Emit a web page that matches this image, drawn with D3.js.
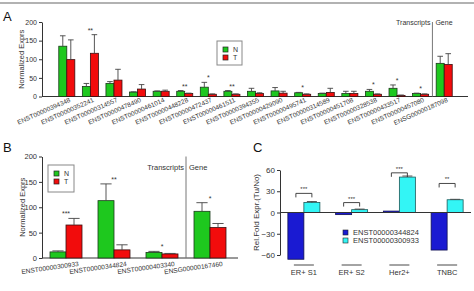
<!DOCTYPE html>
<html>
<head>
<meta charset="utf-8">
<script src="https://cdn.jsdelivr.net/npm/d3@7"></script>
<style>
body { margin: 0; background: #fff; }
svg { display: block; font-family: "Liberation Sans", Arial, sans-serif; }
</style>
</head>
<body>
<div id="fig"></div>
<script>
// ---- panel A: transcripts + gene, normal vs tumour
var aCats = ["ENST00000394348", "ENST00000352241", "ENST00000314557", "ENST00000478490",
    "ENST00000461014", "ENST00000448228", "ENST00000472437", "ENST00000461511",
    "ENST00000394355", "ENST00000429090", "ENST00000495741", "ENST00000314589",
    "ENST00000451708", "ENST00000328538", "ENST00000433517", "ENST00000457080",
    "ENSG00000187098"];
var aN    = [135, 27, 35, 12, 14, 14, 25, 14, 14, 15, 10, 8, 8, 14, 22, 8, 89];
var aNerr = [28, 8, 5, 0.5, 1, 2, 13, 2, 8, 9, 1, 1, 6, 5, 9, 1, 19];
var aT    = [99, 116, 44, 20, 14, 8, 6, 6, 8, 9, 6, 11, 8, 6, 3, 6, 86];
var aTerr = [53, 50, 29, 12, 3, 1, 1, 1, 2, 5, 1, 11, 6, 1, 1, 1, 29];
var aSig  = ["", "**", "", "", "", "**", "*", "**", "", "", "*", "", "", "*", "*", "*", ""];

// ---- panel B
var bCats = ["ENST00000300933", "ENST00000344824", "ENST00000403340", "ENSG00000167460"];
var bN    = [12, 113, 11, 92];
var bNerr = [2, 33, 2, 17];
var bT    = [65, 16, 8, 60];
var bTerr = [13, 10, 1, 8];
var bSig  = ["***", "**", "*", "*"];

var ntTicks = [0, 50, 100, 150, 200];

// ---- panel C: fold change by subtype
var cCats   = ["ER+ S1", "ER+ S2", "Her2+", "TNBC"];
var cSeries = ["ENST00000344824", "ENST00000300933"];
var cBlue   = [-66, -3, 2, -53];
var cCyan   = [14, 4, 50, 18];
var cCyanErr = [1.5, 0.8, 1.5, 0.6];
var cBracket = [27, 14, 56, 41];
var cSig    = ["***", "***", "***", "**"];
var cTicks  = [-60, -30, 0, 30, 60];

var GREEN = "#1ec81e", RED = "#f20c0c", BLUE = "#1a1ad2", CYAN = "#33f5f5";
var INK = "#333";

var svg = d3.select("#fig").append("svg")
    .attr("width", 474)
    .attr("height", 291);

svg.append("rect").attr("width", 474).attr("height", 291).attr("fill", "#fff");
svg.append("line")
    .attr("x1", 0).attr("x2", 474).attr("y1", 3).attr("y2", 3)
    .attr("stroke", "#999").attr("stroke-width", 1.5);

var panelLetter = function(t, x, y) {
    svg.append("text").attr("x", x).attr("y", y)
	.style("font-size", "13px").attr("fill", "#111").text(t);
}

var errBar = function(g, cx, yTop, yEnd, cap) {
    g.append("line").attr("x1", cx).attr("x2", cx).attr("y1", yTop).attr("y2", yEnd)
	.attr("stroke", "#444").attr("stroke-width", 0.9);
    g.append("line").attr("x1", cx - cap / 2).attr("x2", cx + cap / 2).attr("y1", yEnd).attr("y2", yEnd)
	.attr("stroke", "#444").attr("stroke-width", 0.9);
}

// grouped N/T bar panel (used for A and B)
var drawNT = function(o) {
    var g = svg.append("g");
    var x = d3.scaleBand().domain(o.cats).range(o.xRange);
    var y = d3.scaleLinear().domain([0, 200]).range(o.yRange);
    var bw = x.bandwidth() * o.barFrac;

    g.append("g")
	.attr("transform", "translate(" + o.axisX + ",0)")
	.call(d3.axisLeft(y).tickValues(ntTicks).tickSize(3).tickSizeOuter(0).tickPadding(2))
	.call(function(a) {
	    a.selectAll("text").style("font-size", o.tickFont).attr("fill", INK);
	    a.selectAll("line,path").attr("stroke", INK);
	});

    g.append("line")
	.attr("x1", o.axisX).attr("x2", o.axisEnd).attr("y1", y(0)).attr("y2", y(0))
	.attr("stroke", INK).attr("stroke-width", 1);

    g.append("text")
	.attr("transform", "translate(" + o.yLabelX + "," + ((y(0) + y(200)) / 2) + ") rotate(-90)")
	.style("text-anchor", "middle").style("font-size", o.labelFont).attr("fill", INK)
	.text("Normalized Exprs");

    o.cats.forEach(function(c, i) {
	var cx = x(c) + x.bandwidth() / 2;
	g.append("rect").attr("x", cx - bw).attr("y", y(o.n[i])).attr("width", bw)
	    .attr("height", y(0) - y(o.n[i])).attr("fill", GREEN).attr("stroke", "#1a3a1a").attr("stroke-width", 0.8);
	g.append("rect").attr("x", cx).attr("y", y(o.t[i])).attr("width", bw)
	    .attr("height", y(0) - y(o.t[i])).attr("fill", RED).attr("stroke", "#3a1010").attr("stroke-width", 0.8);
	errBar(g, cx - bw / 2, y(o.n[i]), y(o.n[i] + o.nErr[i]), bw * 0.7);
	errBar(g, cx + bw / 2, y(o.t[i]), y(o.t[i] + o.tErr[i]), bw * 0.7);
	if (o.sig[i]) {
	    var top = Math.min(y(o.n[i] + o.nErr[i]), y(o.t[i] + o.tErr[i]));
	    g.append("text").attr("x", cx).attr("y", top - 2)
		.style("text-anchor", "middle").style("font-size", "7px").attr("fill", INK)
		.text(o.sig[i]);
	}
	g.append("text")
	    .attr("transform", "translate(" + (cx + o.lblDx) + "," + (y(0) + o.lblDy) + ") rotate(" + o.lblRot + ")")
	    .style("text-anchor", "end").style("font-size", o.lblFont).attr("fill", INK)
	    .text(c);
    });

    // transcripts | gene divider
    var dx = x(o.cats[o.cats.length - 1]);
    g.append("line").attr("x1", dx).attr("x2", dx).attr("y1", y(200)).attr("y2", y(0))
	.attr("stroke", "#777").attr("stroke-width", 1);
    g.append("text").attr("x", dx - 2).attr("y", y(200) + o.divTextDy)
	.style("text-anchor", "end").style("font-size", o.tickFont).attr("fill", INK).text("Transcripts");
    g.append("text").attr("x", dx + 3).attr("y", y(200) + o.divTextDy)
	.style("font-size", o.tickFont).attr("fill", INK).text("Gene");

    // legend
    var L = o.legend;
    g.append("rect").attr("x", L.x).attr("y", L.y).attr("width", L.w).attr("height", L.h)
	.attr("fill", "#fff").attr("stroke", "#888").attr("stroke-width", 1);
    [["N", GREEN], ["T", RED]].forEach(function(d, i) {
	g.append("rect").attr("x", L.x + 6).attr("y", L.y + 6 + i * 8).attr("width", 5).attr("height", 5)
	    .attr("fill", d[1]).attr("stroke", "#222").attr("stroke-width", 0.7);
	g.append("text").attr("x", L.x + 16).attr("y", L.y + 11 + i * 8)
	    .style("font-size", "7px").attr("fill", INK).text(d[0]);
    });
}

panelLetter("A", 3, 21);
drawNT({
    cats: aCats, n: aN, nErr: aNerr, t: aT, tErr: aTerr, sig: aSig,
    xRange: [55, 456], yRange: [96.5, 22], barFrac: 0.34,
    axisX: 42, axisEnd: 468, yLabelX: 24,
    tickFont: "7px", labelFont: "7.5px",
    lblDx: 4, lblDy: 5, lblRot: -24, lblFont: "6.5px",
    divTextDy: 3,
    legend: {x: 217, y: 41, w: 25, h: 24}
});

panelLetter("B", 3, 152);
drawNT({
    cats: bCats, n: bN, nErr: bNerr, t: bT, tErr: bTerr, sig: bSig,
    xRange: [42, 234], yRange: [258, 156.5], barFrac: 1 / 3,
    axisX: 42, axisEnd: 238, yLabelX: 25,
    tickFont: "7.5px", labelFont: "7.5px",
    lblDx: 13, lblDy: 8, lblRot: -8, lblFont: "6.6px",
    divTextDy: 13,
    legend: {x: 48, y: 165, w: 26, h: 27}
});

// ---- panel C
panelLetter("C", 253, 152);
(function() {
    var g = svg.append("g");
    var x = d3.scaleBand().domain(cCats).range([280, 471]);
    var y = d3.scaleLinear().domain([-60, 60]).range([255, 170]);
    var bw = 16;

    g.append("g")
	.attr("transform", "translate(280,0)")
	.call(d3.axisLeft(y).tickValues(cTicks).tickSize(3).tickSizeOuter(0).tickPadding(2))
	.call(function(a) {
	    a.selectAll("text").style("font-size", "8px").attr("fill", INK);
	    a.selectAll("line,path").attr("stroke", INK);
	});

    g.append("text")
	.attr("transform", "translate(259," + y(0) + ") rotate(-90)")
	.style("text-anchor", "middle").style("font-size", "8px").attr("fill", INK)
	.text("Rel.Fold Expr.(Tu/No)");

    cCats.forEach(function(c, i) {
	var cx = x(c) + x.bandwidth() / 2;
	var b = cBlue[i], v = cCyan[i];
	g.append("rect").attr("x", cx - bw).attr("y", y(Math.max(0, b))).attr("width", bw)
	    .attr("height", Math.abs(y(b) - y(0))).attr("fill", BLUE).attr("stroke", "#101050").attr("stroke-width", 0.8);
	g.append("rect").attr("x", cx).attr("y", y(Math.max(0, v))).attr("width", bw)
	    .attr("height", Math.abs(y(v) - y(0))).attr("fill", CYAN).attr("stroke", "#1a5a5a").attr("stroke-width", 0.8);
	errBar(g, cx + bw / 2, y(v), y(v + cCyanErr[i]), 10);

	// significance bracket
	var by = y(cBracket[i]);
	g.append("path")
	    .attr("d", "M" + (cx - bw / 2) + "," + (by + 4) + "V" + by + "H" + (cx + bw / 2) + "V" + (by + 4))
	    .attr("fill", "none").attr("stroke", INK).attr("stroke-width", 0.9);
	g.append("text").attr("x", cx).attr("y", by - 2)
	    .style("text-anchor", "middle").style("font-size", "6px").attr("fill", INK).text(cSig[i]);

	// category label with overline
	g.append("line").attr("x1", cx - 10).attr("x2", cx + 10).attr("y1", 265).attr("y2", 265)
	    .attr("stroke", INK).attr("stroke-width", 0.9);
	g.append("text").attr("x", cx).attr("y", 275)
	    .style("text-anchor", "middle").style("font-size", "7.5px").attr("fill", INK).text(c);
    });

    g.append("line").attr("x1", 280).attr("x2", 471).attr("y1", y(0)).attr("y2", y(0))
	.attr("stroke", INK).attr("stroke-width", 1);

    [BLUE, CYAN].forEach(function(col, i) {
	g.append("rect").attr("x", 343).attr("y", 230 + i * 8).attr("width", 5).attr("height", 5)
	    .attr("fill", col).attr("stroke", "#222").attr("stroke-width", 0.6);
	g.append("text").attr("x", 353).attr("y", 235 + i * 8)
	    .style("font-size", "7.5px").attr("fill", INK).text(cSeries[i]);
    });
})();
</script>
</body>
</html>
